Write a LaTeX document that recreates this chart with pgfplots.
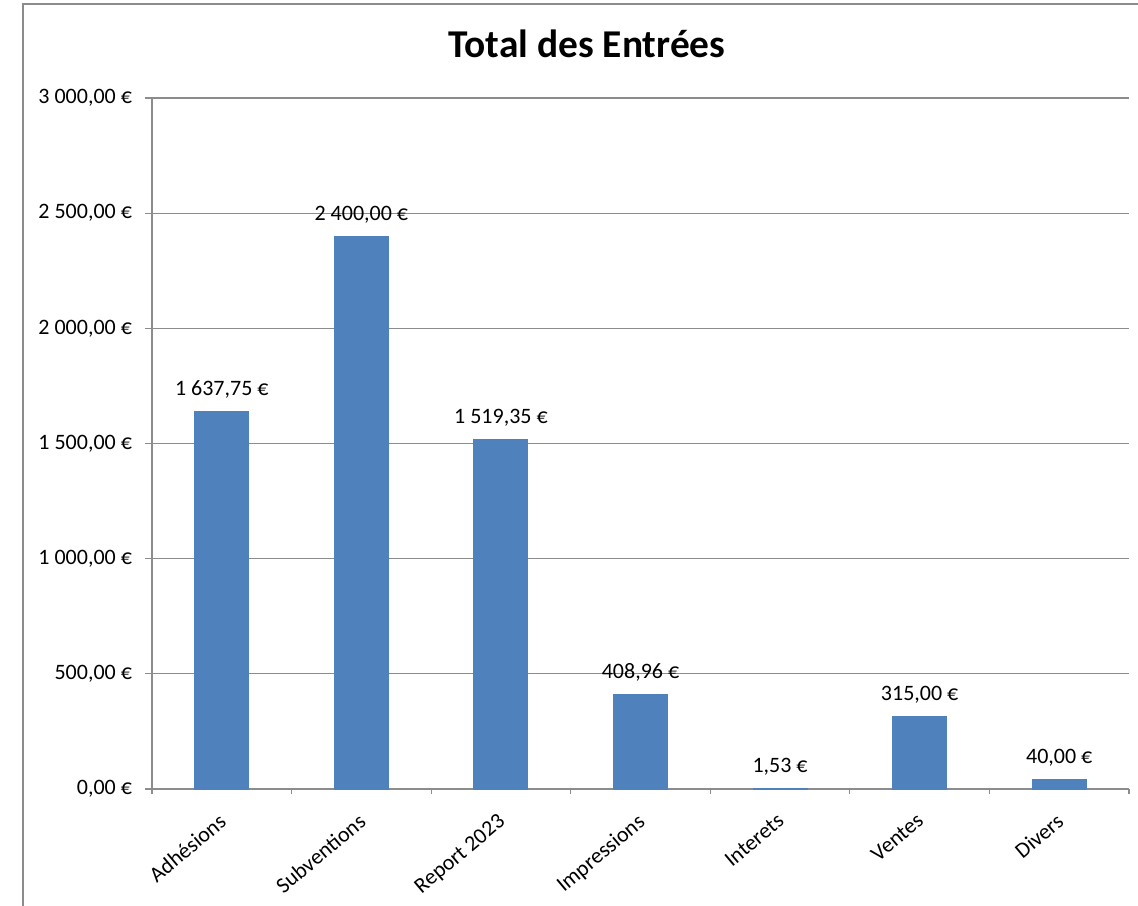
\documentclass[border=0pt]{standalone}
\usepackage{pgfplots}
\pgfplotsset{compat=1.18}
\usepackage{fontspec}
\setmainfont{Carlito}
\definecolor{barblue}{HTML}{4F81BD}
\definecolor{gridgray}{HTML}{8C8C8C}
\begin{document}
\begin{tikzpicture}
\path[use as bounding box] (0,0) rectangle (569pt,452.5pt);
\draw[gridgray, line width=0.7pt] (11.5pt,-5pt) -- (11.5pt,450.5pt) -- (575pt,450.5pt);
\node[font=\fontsize{19.7}{23}\selectfont\bfseries, anchor=base, inner sep=0pt] at (293.5pt,423.5pt) {Total des Entrées};
\begin{axis}[
  at={(76pt,58pt)}, anchor=south west,
  scale only axis, width=488.5pt, height=345.5pt,
  ymin=0, ymax=3000,
  xmin=-0.5, xmax=6.5,
  axis x line*=bottom, axis y line*=left,
  axis line style={gridgray, line width=0.6pt},
  ytick={0,500,...,3000},
  yticklabels={{0,00 €},{500,00 €},{1 000,00 €},{1 500,00 €},{2 000,00 €},{2 500,00 €},{3 000,00 €}},
  xtick={0,...,6},
  xticklabels={Adhésions,Subventions,Report 2023,Impressions,Interets,Ventes,Divers},
  minor xtick={-0.5,0.5,...,6.5},
  tick align=outside,
  major tick length=3.5pt,
  minor tick length=2.5pt,
  tick style={gridgray, line width=0.6pt},
  major x tick style={draw=none},
  ymajorgrids,
  major grid style={gridgray, line width=0.6pt},
  ticklabel style={font=\fontsize{11}{13}\selectfont, text=black},
  yticklabel style={xshift=-3pt},
  xticklabel style={xshift=-2pt, yshift=-8pt, rotate=40, anchor=north east, inner sep=0pt},
  nodes near coords style={font=\fontsize{11}{13}\selectfont, anchor=base, inner sep=0pt, yshift=8pt, text=black},
]
\addplot[ybar, bar width=27pt, fill=barblue, draw=barblue, line width=0.5pt, nodes near coords, point meta=explicit symbolic]
coordinates {
(0,1637.75) [1 637,75 €]
(1,2400) [2 400,00 €]
(2,1519.35) [1 519,35 €]
(3,408.96) [408,96 €]
(4,1.53) [1,53 €]
(5,315) [315,00 €]
(6,40) [40,00 €]
};
\end{axis}
\end{tikzpicture}
\end{document}
